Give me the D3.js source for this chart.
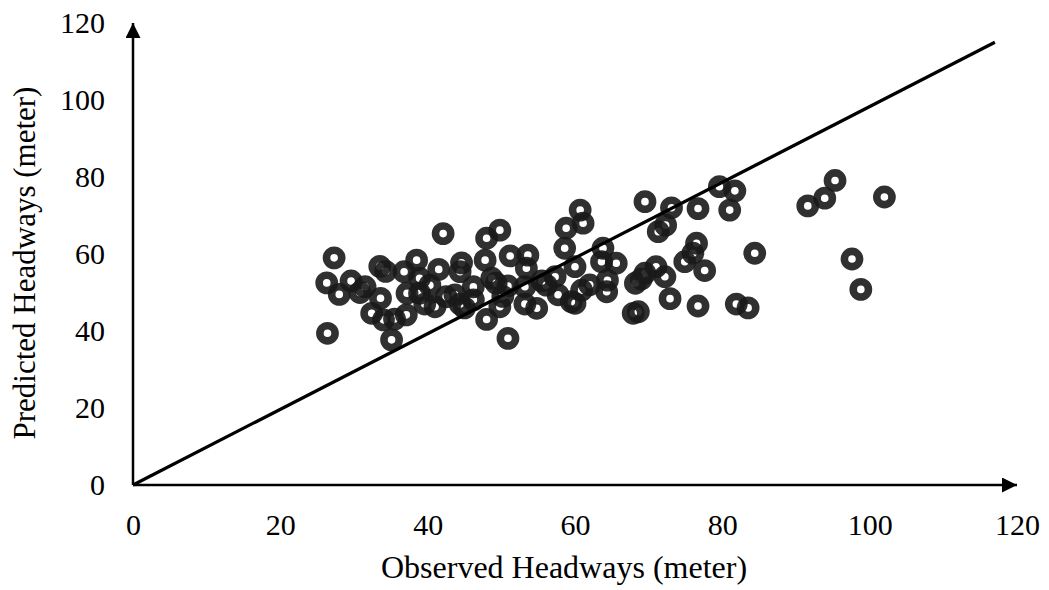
<!DOCTYPE html>
<html>
<head>
<meta charset="utf-8">
<script src="https://d3js.org/d3.v7.min.js"></script>
<style>
  body { margin: 0; background: #fff; }
  svg text { font-family: "Liberation Serif", "Times New Roman", serif; fill: #000; }
</style>
</head>
<body>
<script>
// observed / predicted headways (meter)
var observed = [27.3, 26.3, 28.0, 29.6, 31.5, 30.8, 33.6, 33.5, 34.3, 32.4, 34.0, 35.5, 37.1, 35.1, 26.4,
  36.8, 38.5, 37.2, 38.9, 40.3, 41.5, 41.0, 42.1, 38.9, 42.5, 43.7, 44.6, 44.4, 44.4, 46.2,
  46.2, 47.8, 48.0, 49.8, 48.0, 48.7, 49.3, 50.9, 49.8, 50.9, 51.2, 53.6, 53.4, 53.2, 53.2,
  54.8, 56.1, 57.3, 57.7, 58.6, 58.8, 59.5, 60.0, 60.0, 60.7, 61.1, 60.9, 63.6, 63.8, 65.6,
  64.4, 64.3, 67.9, 68.6, 68.2, 69.0, 69.5, 69.5, 71.0, 71.3, 72.3, 72.2, 73.1, 72.9, 74.9,
  76.0, 76.5, 76.7, 76.7, 77.6, 79.6, 81.7, 81.0, 81.9, 83.5, 84.4, 91.6, 93.9, 95.3, 97.6,
  98.8, 102.0, 55.5, 45.0, 39.6, 62.0, 50.2];
var predicted = [59.0, 52.5, 49.5, 53.0, 51.5, 50.0, 48.5, 56.8, 55.5, 44.6, 42.9, 43.1, 44.2, 37.7, 39.4,
  55.4, 58.4, 49.8, 53.7, 51.9, 56.0, 46.3, 65.3, 49.8, 48.9, 49.4, 57.7, 55.4, 47.0, 51.5,
  48.1, 58.4, 64.1, 66.2, 43.0, 53.7, 52.4, 51.7, 46.3, 38.1, 59.5, 59.7, 56.3, 51.5, 47.0,
  45.9, 51.9, 54.1, 49.4, 61.5, 66.7, 47.6, 47.2, 56.7, 71.4, 68.0, 50.6, 58.0, 61.5, 57.6,
  53.2, 50.2, 44.6, 45.0, 52.4, 53.5, 73.6, 55.0, 56.7, 65.8, 67.5, 54.1, 72.0, 48.4, 58.0,
  60.2, 62.8, 71.8, 46.5, 55.7, 77.5, 76.4, 71.4, 47.0, 46.0, 60.2, 72.5, 74.5, 79.1, 58.7,
  50.8, 74.8, 53.0, 46.0, 47.0, 52.0, 49.0];
var xTicks = [0, 20, 40, 60, 80, 100, 120];
var yTicks = [0, 20, 40, 60, 80, 100, 120];
var fitX = [0, 117];
var fitY = [0, 115];

var width = 1049, height = 590;
var svg = d3.select("body").append("svg")
  .attr("width", width)
  .attr("height", height);

var x = d3.scaleLinear().domain([0, 120]).range([133, 1017]);
var y = d3.scaleLinear().domain([0, 120]).range([485, 23]);

// arrow heads
var defs = svg.append("defs");
defs.append("marker")
  .attr("id", "arrow")
  .attr("viewBox", "0 0 10 10")
  .attr("refX", 10).attr("refY", 5)
  .attr("markerWidth", 7).attr("markerHeight", 6)
  .attr("markerUnits", "strokeWidth")
  .attr("orient", "auto")
  .append("path")
  .attr("d", "M0,0 L10,5 L0,10 Z")
  .attr("fill", "#000");

var xAxis = svg.append("g")
  .attr("transform", "translate(0," + y(0) + ")")
  .call(d3.axisBottom(x).tickValues(xTicks).tickSize(0).tickPadding(29));
xAxis.select(".domain").remove();
xAxis.selectAll("text").style("font-size", "30px").style("font-family", "Liberation Serif");

var yAxis = svg.append("g")
  .attr("transform", "translate(" + x(0) + ",0)")
  .call(d3.axisLeft(y).tickValues(yTicks).tickSize(0).tickPadding(28));
yAxis.select(".domain").remove();
yAxis.selectAll("text").style("font-size", "30px").style("font-family", "Liberation Serif");

svg.append("line")
  .attr("x1", x(0)).attr("y1", y(0))
  .attr("x2", x(120)).attr("y2", y(0))
  .attr("stroke", "#000").attr("stroke-width", 2.5)
  .attr("marker-end", "url(#arrow)");
svg.append("line")
  .attr("x1", x(0)).attr("y1", y(0))
  .attr("x2", x(0)).attr("y2", y(120))
  .attr("stroke", "#000").attr("stroke-width", 2.5)
  .attr("marker-end", "url(#arrow)");

// points
var pts = observed.map(function(d, i) { return [d, predicted[i]]; });
svg.append("g").selectAll("circle")
  .data(pts)
  .enter()
  .append("circle")
  .attr("cx", function(d) { return x(d[0]); })
  .attr("cy", function(d) { return y(d[1]); })
  .attr("r", 7.6)
  .attr("fill", "none")
  .attr("stroke", "#1a1a1a")
  .attr("stroke-width", 7.6)
  .attr("stroke-opacity", 0.9);

// 1:1 line
svg.append("line")
  .attr("x1", x(fitX[0])).attr("y1", y(fitY[0]))
  .attr("x2", x(fitX[1])).attr("y2", y(fitY[1]))
  .attr("stroke", "#000").attr("stroke-width", 3.2);

svg.append("text")
  .attr("x", 564).attr("y", 578)
  .attr("text-anchor", "middle")
  .style("font-size", "32px")
  .text("Observed Headways (meter)");

svg.append("text")
  .attr("transform", "translate(35,263) rotate(-90)")
  .attr("text-anchor", "middle")
  .style("font-size", "31px")
  .text("Predicted Headways (meter)");
</script>
</body>
</html>
